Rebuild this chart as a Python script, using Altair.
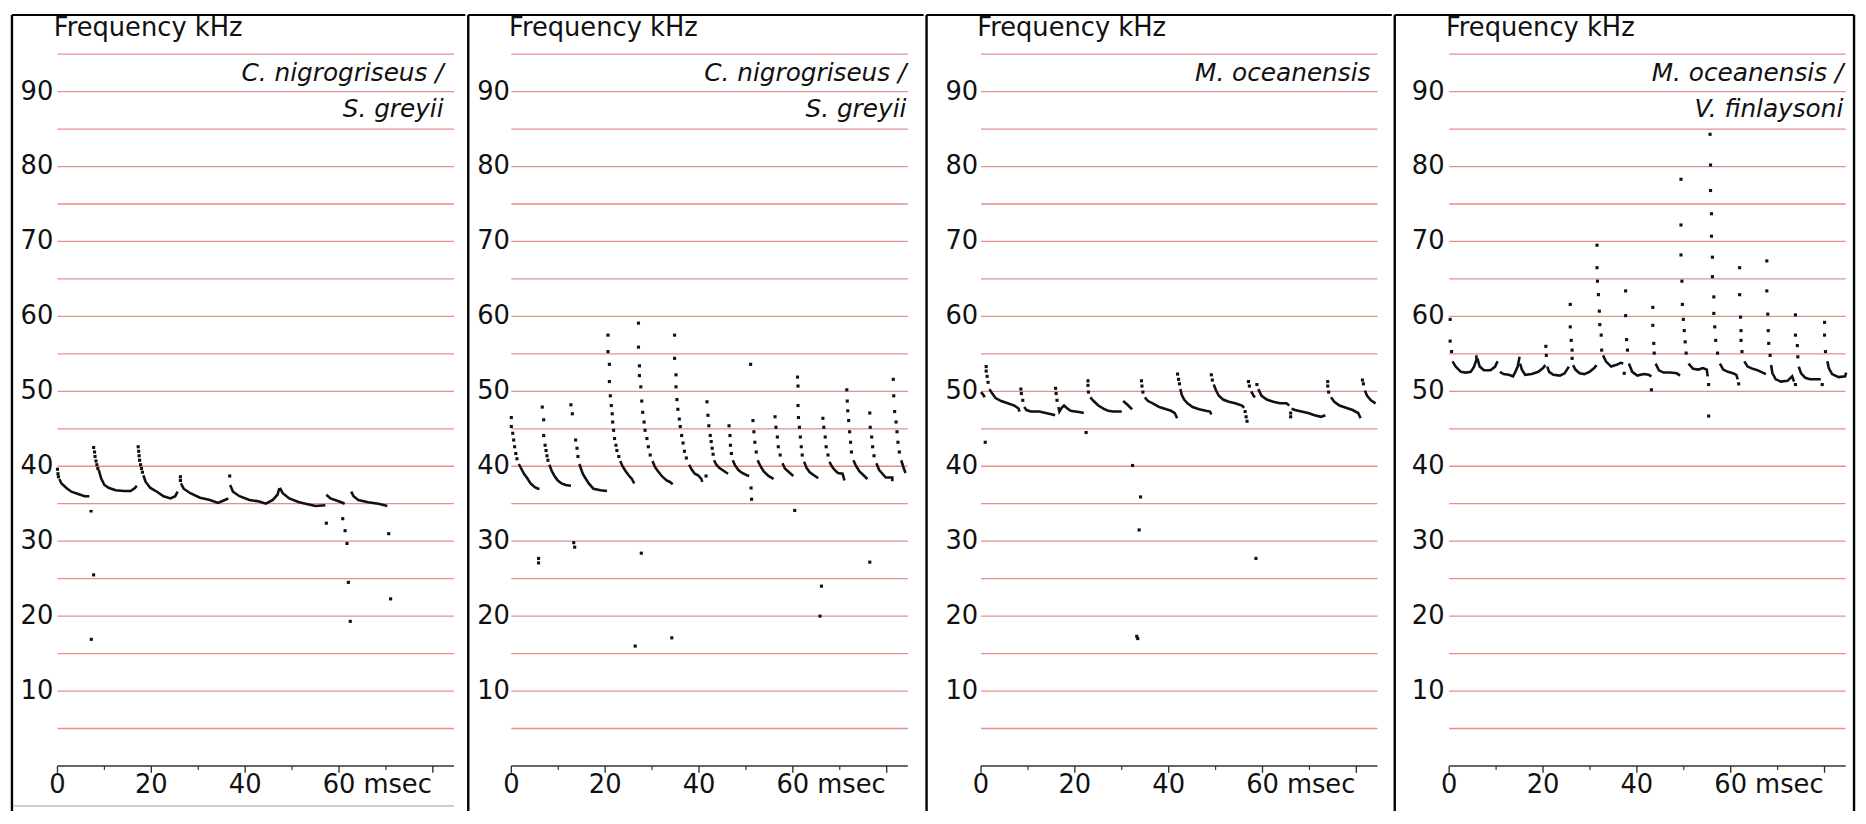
import altair as alt
import pandas as pd

# ---------------- shared axis content ----------------
GRID_KHZ = [5, 10, 15, 20, 25, 30, 35, 40, 45, 50, 55, 60, 65, 70, 75, 80, 85, 90, 95]
Y_LABEL_KHZ = [10, 20, 30, 40, 50, 60, 70, 80, 90]
X_MAJOR_MS = [0, 20, 40, 60, 80]
X_MINOR_MS = [10, 30, 50, 70]
X_LABEL_MS = [0, 20, 40, 60]
X_LABEL_TEXT = ["0", "20", "40", "60"]
X_UNIT = "msec"
Y_TITLE = "Frequency kHz"
SPECIES = [
    ["C. nigrogriseus /", "S. greyii"],
    ["C. nigrogriseus /", "S. greyii"],
    ["M. oceanensis"],
    ["M. oceanensis /", "V. finlaysoni"],
]

# ---------------- panel 1 ----------------
P1_TRACE_T = [
    [0.4, 0.85, 1.9, 2.95, 4.4, 5.8, 6.8],
    [6.8, 7.5],
    [8.8, 9.3, 10.0, 11.0, 12.4, 14.2, 15.6, 16.5, 16.9],
    [18.3, 18.8, 19.8, 21.2, 22.6, 24.1, 25.1, 25.6],
    [26.3, 26.9, 28.3, 30.4, 32.5, 34.2, 35.3, 36.4],
    [36.8, 37.4, 38.8, 40.9, 43.0, 44.4, 45.9, 46.9, 47.3],
    [47.4, 48.0, 49.4, 51.5, 53.6, 55.0, 57.1],
    [57.3, 58.2, 59.6, 60.5, 61.2],
    [62.6, 63.1, 64.1, 66.2, 68.4, 70.3],
]
P1_TRACE_F = [
    [38.3, 37.7, 37.1, 36.6, 36.3, 36.0, 36.0],
    [34.0, 34.0],
    [39.5, 38.4, 37.5, 37.1, 36.8, 36.7, 36.7, 37.1, 37.4],
    [38.8, 37.9, 37.1, 36.6, 36.0, 35.7, 36.0, 36.6],
    [37.7, 37.0, 36.4, 35.8, 35.5, 35.1, 35.4, 35.7],
    [37.5, 36.6, 36.0, 35.5, 35.3, 35.0, 35.5, 36.2, 37.1],
    [37.1, 36.4, 35.7, 35.2, 34.9, 34.7, 34.8],
    [36.2, 35.7, 35.4, 35.2, 35.0],
    [36.6, 36.0, 35.5, 35.2, 35.0, 34.7],
]
P1_DOT_T = [0.0, 0.1, 0.2, 7.7, 7.9, 8.0, 8.2, 8.4, 8.6, 17.2, 17.3, 17.4, 17.5, 17.7,
            17.9, 18.1, 26.2, 26.2, 36.7, 7.7, 7.2, 57.3, 60.8, 61.3, 61.7, 62.0, 62.4,
            70.6, 71.0]
P1_DOT_F = [39.6, 39.0, 38.6, 42.5, 41.9, 41.3, 40.7, 40.2, 39.7, 42.6, 42.0, 41.4, 40.8, 40.2,
            39.7, 39.2, 38.6, 38.1, 38.7, 25.5, 16.9, 32.4, 33.0, 31.4, 29.7, 24.5, 19.3,
            31.0, 22.3]

# ---------------- panel 2 ----------------
P2_TRACE_T = [
    [1.6, 2.1, 2.7, 3.4, 4.1, 5.0, 5.7, 6.0],
    [8.1, 8.6, 9.2, 9.9, 10.7, 11.6, 12.7],
    [14.5, 15.0, 15.3, 15.8, 16.5, 17.5, 19.0, 20.4],
    [23.2, 23.7, 24.3, 25.0, 25.7, 26.2],
    [30.1, 30.6, 31.3, 32.2, 33.1, 33.8, 34.4],
    [37.9, 38.4, 39.1, 39.8, 40.5, 40.7],
    [43.2, 43.7, 44.3, 45.0, 45.7, 46.2],
    [47.2, 47.7, 48.4, 49.2, 50.2, 50.7],
    [52.5, 53.1, 53.8, 54.8, 55.9],
    [57.8, 58.3, 59.2, 60.1],
    [62.4, 62.9, 63.6, 64.5, 65.4],
    [67.8, 68.3, 68.9, 69.6, 70.6, 71.0],
    [72.9, 73.5, 74.2, 74.9, 75.9],
    [77.8, 78.4, 79.1, 79.8, 81.2, 81.2],
    [83.1, 83.5, 84.0],
]
P2_TRACE_F = [
    [40.3, 39.7, 39.0, 38.4, 37.7, 37.2, 37.0, 37.0],
    [40.2, 39.4, 38.7, 38.1, 37.7, 37.5, 37.4],
    [40.3, 39.4, 38.9, 38.4, 37.7, 37.0, 36.8, 36.7],
    [40.7, 40.0, 39.4, 38.8, 38.3, 37.7],
    [40.7, 39.9, 39.3, 38.6, 38.1, 37.9, 37.6],
    [40.2, 39.6, 39.0, 38.8, 38.3, 37.9],
    [40.8, 40.2, 39.8, 39.5, 39.2, 39.0],
    [40.8, 40.1, 39.5, 39.1, 38.8, 38.7],
    [40.8, 40.0, 39.3, 38.7, 38.3],
    [40.4, 39.7, 39.2, 38.7],
    [40.6, 39.8, 39.2, 38.8, 38.4],
    [40.6, 40.0, 39.5, 39.1, 39.0, 38.1],
    [40.8, 40.0, 39.3, 38.9, 38.3],
    [40.4, 39.5, 39.0, 38.5, 38.5, 38.0],
    [40.8, 40.0, 39.1],
]
P2_DOT_T = [0.0, 0.0, 0.3, 0.5, 0.7, 0.95, 1.2,
            6.6, 6.9, 6.9, 7.2, 7.4, 7.6, 7.8,
            12.7, 13.0, 13.7, 14.0, 14.2,
            20.6, 20.6, 20.9, 20.9, 21.1, 21.3, 21.5, 21.6, 21.8, 22.0, 22.3, 22.5, 22.9,
            27.1, 27.1, 27.3, 27.3, 27.6, 27.8, 28.0, 28.3, 28.5, 28.9, 29.2, 29.6,
            34.8, 34.8, 35.1, 35.1, 35.3, 35.5, 35.8, 36.0, 36.3, 36.6, 36.9, 37.3,
            41.7, 41.9, 42.1, 42.4, 42.6, 42.8, 43.0,
            46.4, 46.6, 46.7, 46.9,
            51.5, 51.7, 51.9, 52.2,
            56.2, 56.4, 56.7, 56.9, 57.3,
            61.0, 61.1, 61.1, 61.2, 61.4, 61.6, 61.8, 62.0,
            66.4, 66.6, 66.9, 67.1, 67.5,
            71.5, 71.6, 71.7, 71.9, 72.1, 72.3, 72.5,
            76.4, 76.5, 76.8, 77.0, 77.3,
            81.4, 81.5, 81.7, 82.0, 82.2, 82.4, 82.7,
            5.8, 5.8, 13.3, 13.5, 26.4, 27.7, 34.2, 41.5, 51.0, 51.1, 51.2, 60.4,
            65.8, 66.1, 76.4]
P2_DOT_F = [46.5, 45.3, 44.4, 43.5, 42.6, 41.7, 41.0,
            47.9, 46.2, 44.1, 42.8, 42.1, 41.4, 40.8,
            48.2, 47.0, 43.5, 42.4, 41.3,
            57.5, 55.3, 53.6, 51.3, 49.4, 48.1, 47.0, 45.9, 44.8, 43.7, 42.8, 42.1, 41.3,
            59.1, 55.9, 53.4, 52.1, 50.6, 48.7, 47.2, 45.9, 44.8, 43.7, 42.6, 41.5,
            57.5, 54.4, 52.2, 50.6, 48.9, 47.6, 46.3, 45.3, 44.1, 43.1, 42.0, 41.1,
            48.6, 46.8, 45.4, 44.1, 43.3, 42.4, 41.6,
            45.4, 44.1, 42.8, 41.7,
            46.1, 44.6, 43.2, 41.9,
            46.6, 45.2, 43.9, 42.6, 41.5,
            51.9, 50.7, 48.1, 46.5, 45.2, 43.9, 42.6, 41.5,
            46.4, 45.2, 43.9, 42.6, 41.5,
            50.2, 48.7, 47.4, 46.1, 44.6, 43.2, 41.9,
            47.1, 45.2, 43.9, 42.6, 41.4,
            51.6, 49.4, 47.3, 45.9, 44.6, 43.2, 41.9,
            27.1, 27.7, 29.8, 29.2, 16.0, 28.4, 17.1, 38.7, 53.6, 37.1, 35.6, 34.1,
            20.0, 24.0, 27.2]

# ---------------- panel 3 ----------------
P3_TRACE_T = [
    [0.0, 0.4, 0.8],
    [1.8, 2.4, 3.1, 4.3, 5.7, 7.1, 8.0, 8.2],
    [9.2, 9.7, 10.6, 12.4, 13.8, 15.2, 15.8],
    [16.5, 16.7, 17.2, 17.7, 18.4, 19.1, 20.1, 21.2, 21.9],
    [23.3, 24.0, 25.0, 26.1, 27.1, 28.2, 30.0],
    [30.3, 31.4, 32.2],
    [34.9, 35.6, 36.6, 38.0, 39.5, 40.5, 41.3, 41.8],
    [42.5, 42.8, 43.3, 44.0, 45.1, 46.5, 47.9, 48.8, 49.1],
    [49.6, 50.1, 50.7, 51.6, 52.8, 54.2, 55.6, 56.1],
    [57.6, 58.1, 58.4],
    [59.1, 59.8, 60.9, 62.3, 63.7, 65.1, 65.7],
    [66.2, 66.9, 68.3, 69.7, 71.1, 72.5, 73.4],
    [74.6, 75.3, 76.4, 77.8, 79.2, 80.4, 80.9],
    [81.8, 82.3, 83.1, 84.1],
]
P3_TRACE_F = [
    [49.9, 49.6, 49.2],
    [50.3, 49.7, 49.1, 48.7, 48.4, 48.1, 47.7, 47.3],
    [47.9, 47.5, 47.3, 47.3, 47.1, 46.9, 46.8],
    [47.9, 47.3, 47.8, 48.1, 47.7, 47.4, 47.3, 47.2, 47.1],
    [49.2, 48.7, 48.1, 47.7, 47.4, 47.3, 47.3],
    [48.7, 48.1, 47.6],
    [49.2, 48.7, 48.4, 47.9, 47.6, 47.4, 47.1, 46.4],
    [50.3, 49.5, 48.9, 48.4, 47.9, 47.6, 47.4, 47.3, 46.9],
    [50.9, 50.1, 49.4, 48.9, 48.6, 48.4, 48.1, 47.8],
    [50.0, 49.4, 49.2],
    [50.3, 49.4, 48.9, 48.6, 48.4, 48.4, 48.1],
    [47.7, 47.5, 47.3, 47.1, 46.8, 46.6, 46.8],
    [49.2, 48.6, 48.1, 47.8, 47.5, 47.1, 46.4],
    [50.1, 49.4, 48.8, 48.4],
]
P3_DOT_T = [1.1, 1.1, 1.3, 1.5, 8.5, 8.6, 8.9, 15.9, 16.0, 16.2, 22.8, 22.8, 22.9,
            34.2, 34.3, 34.5, 41.9, 42.1, 42.3, 49.1, 49.3, 56.3, 56.5, 56.7,
            57.0, 57.2, 58.8, 66.0, 66.0, 73.9, 73.9, 74.1, 81.3, 81.5,
            0.9, 22.4, 32.3, 34.0, 33.7, 33.2, 33.4, 58.6]
P3_DOT_F = [53.3, 52.7, 52.0, 51.2, 50.3, 49.7, 48.8, 50.4, 49.7, 48.8, 51.4, 50.8, 49.9,
            51.4, 50.7, 49.9, 52.3, 51.6, 51.0, 52.2, 51.5, 47.3, 46.6, 46.0,
            51.3, 50.7, 50.9, 47.1, 46.6, 51.3, 50.7, 49.9, 51.5, 51.0,
            43.2, 44.5, 40.1, 35.9, 31.5, 17.3, 17.0, 27.7]

# ---------------- panel 4 ----------------
P4_TRACE_T = [
    [0.7, 1.4, 2.5, 3.5, 4.6, 5.3, 5.8, 5.8],
    [6.0, 6.5, 7.4, 8.8, 9.8, 10.3],
    [10.8, 11.6, 12.7, 13.6, 14.1, 14.6, 15.0],
    [15.1, 15.5, 16.2, 17.6, 19.0, 20.0, 20.5],
    [20.9, 21.3, 22.2, 23.6, 24.6, 25.5],
    [26.4, 26.9, 27.8, 28.8, 29.9, 30.9, 31.4],
    [32.8, 33.4, 34.5, 35.5, 36.6, 37.1],
    [38.3, 39.0, 40.1, 41.5, 42.5, 43.1],
    [44.0, 44.7, 45.7, 47.1, 48.5, 49.2],
    [51.0, 52.0, 53.1, 54.1, 54.9, 55.1],
    [57.7, 58.4, 59.4, 60.5, 61.2, 61.5],
    [62.9, 63.6, 64.7, 65.8, 66.8, 67.5],
    [68.6, 68.9, 69.6, 70.7, 72.1, 73.1, 73.5],
    [74.5, 75.0, 75.9, 76.9, 78.0, 79.2],
    [80.6, 80.9, 81.6, 83.0, 84.4, 84.6],
]
P4_TRACE_F = [
    [54.0, 53.3, 52.6, 52.5, 52.6, 53.3, 54.2, 54.8],
    [54.4, 53.3, 52.8, 52.8, 53.3, 54.0],
    [52.6, 52.3, 52.2, 52.0, 52.6, 53.3, 54.6],
    [53.7, 52.9, 52.2, 52.3, 52.6, 53.1, 53.5],
    [53.3, 52.6, 52.2, 52.1, 52.4, 53.3],
    [53.5, 52.9, 52.4, 52.3, 52.6, 53.1, 53.5],
    [54.8, 54.0, 53.3, 53.5, 53.8, 53.7],
    [53.7, 52.6, 52.1, 52.3, 52.2, 52.0],
    [53.7, 52.8, 52.5, 52.5, 52.4, 52.1],
    [53.7, 53.0, 52.9, 53.1, 52.9, 52.0],
    [53.7, 52.9, 52.6, 52.4, 52.2, 51.6],
    [54.0, 53.3, 53.0, 52.8, 52.5, 52.3],
    [53.5, 52.4, 51.6, 51.3, 51.4, 52.0, 51.3],
    [53.3, 52.4, 51.8, 51.6, 51.6, 51.6],
    [54.0, 53.1, 52.3, 51.9, 52.0, 52.5],
]
P4_DOT_T = [0.2, 0.2, 0.5, 20.6, 20.7,
            25.8, 25.8, 26.0, 26.2, 26.2,
            31.5, 31.5, 31.6, 31.8, 32.0, 32.1, 32.4, 32.5, 37.3,
            37.6, 37.6, 37.8, 38.0, 43.1,
            43.4, 43.4, 43.6, 43.7,
            49.4, 49.4, 49.4, 49.6, 49.7, 49.9, 50.1, 50.3, 50.5, 55.3, 55.3,
            55.6, 55.7, 55.7, 55.9, 55.9, 56.1, 56.1, 56.4, 56.4, 56.6, 56.8, 57.2, 61.7,
            61.9, 61.9, 62.1, 62.2, 62.2, 62.4,
            67.7, 67.7, 67.9, 68.0, 68.1, 68.4, 73.8,
            73.8, 73.8, 74.2, 74.3, 79.5,
            80.0, 80.0, 80.2]
P4_DOT_F = [59.6, 56.7, 55.3, 56.0, 54.8,
            61.6, 58.6, 56.8, 55.5, 54.4,
            69.5, 66.5, 64.7, 62.9, 60.7, 58.9, 57.5, 55.5, 52.4,
            63.4, 60.1, 56.9, 55.5, 50.2,
            61.2, 58.8, 56.4, 55.1,
            78.3, 72.2, 68.2, 64.7, 61.6, 59.6, 58.1, 56.6, 55.1, 50.9, 46.7,
            84.3, 80.2, 76.8, 73.7, 70.7, 67.9, 65.3, 62.6, 60.4, 58.6, 56.8, 55.1, 51.0,
            66.5, 62.9, 59.9, 58.1, 56.8, 55.3,
            67.4, 63.4, 60.3, 58.1, 56.4, 54.8, 50.9,
            60.2, 57.5, 56.1, 54.6, 50.9,
            59.2, 57.5, 55.3]

PANELS = [
    (P1_DOT_T, P1_DOT_F, P1_TRACE_T, P1_TRACE_F),
    (P2_DOT_T, P2_DOT_F, P2_TRACE_T, P2_TRACE_F),
    (P3_DOT_T, P3_DOT_F, P3_TRACE_T, P3_TRACE_F),
    (P4_DOT_T, P4_DOT_F, P4_TRACE_T, P4_TRACE_F),
]

# ---------------- layout / style ----------------
PX_PER_MS = 4.74
PX_PER_KHZ = 7.57
PANEL_W = [458, 460, 470, 464]
ZERO_PX = [46, 43.5, 55, 55]
PANEL_H = 804
Y_TOP = 100.21
Y_BOT = Y_TOP - PANEL_H / PX_PER_KHZ
BASE_F = Y_TOP - 799 / PX_PER_KHZ
GRID_END_MS = 84.5
YLAB_T = [-0.9, -0.3, -0.6, -1.0]
TITLE_T = [-0.8, -0.5, -0.8, -0.7]
SPECIES_T = [82.3, 84.2, 83.0, 84.0]
SPECIES_F = [92.5, 87.6]
TITLE_F = 98.5
XLAB_F = -2.6
UNIT_T = 65.2
MAJOR_LEN = 0.92
MINOR_LEN = 0.53
FONT = "DejaVu Sans"
FS = 26
FS_SPECIES = 25
INK = "#111111"
GRID_COLOR = "#e58f8f"


def build_panel(k):
    dots_t, dots_f, tr_t, tr_f = PANELS[k]
    w = PANEL_W[k]
    z = ZERO_PX[k]
    x_min = -z / PX_PER_MS
    x_max = (w - z) / PX_PER_MS
    xs = alt.Scale(domain=[x_min, x_max], nice=False, zero=False)
    ys = alt.Scale(domain=[Y_BOT, Y_TOP], nice=False, zero=False)

    def X(f):
        return alt.X(f"{f}:Q", scale=xs, axis=None)

    def Y(f):
        return alt.Y(f"{f}:Q", scale=ys, axis=None)

    grid = pd.DataFrame({"f": GRID_KHZ, "t0": 0.0, "t1": GRID_END_MS})
    grid_l = alt.Chart(grid).mark_rule(color=GRID_COLOR, strokeWidth=1.3).encode(
        x=X("t0"), x2=alt.X2("t1"), y=Y("f"))

    axis = pd.DataFrame({"t0": [0.0], "t1": [GRID_END_MS], "f": [0.0]})
    axis_l = alt.Chart(axis).mark_rule(color="#333333", strokeWidth=1.4).encode(
        x=X("t0"), x2=alt.X2("t1"), y=Y("f"))

    major = pd.DataFrame({"t": X_MAJOR_MS, "f0": 0.0, "f1": -MAJOR_LEN})
    major_l = alt.Chart(major).mark_rule(color="#333333", strokeWidth=1.4).encode(
        x=X("t"), y=Y("f0"), y2=alt.Y2("f1"))
    minor = pd.DataFrame({"t": X_MINOR_MS, "f0": 0.0, "f1": -MINOR_LEN})
    minor_l = alt.Chart(minor).mark_rule(color="#333333", strokeWidth=1.2).encode(
        x=X("t"), y=Y("f0"), y2=alt.Y2("f1"))

    xl = pd.DataFrame({"t": X_LABEL_MS, "f": XLAB_F, "s": X_LABEL_TEXT})
    xl_l = alt.Chart(xl).mark_text(font=FONT, fontSize=FS, color=INK, align="center",
                                   baseline="middle").encode(x=X("t"), y=Y("f"), text="s:N")
    unit = pd.DataFrame({"t": [UNIT_T], "f": [XLAB_F], "s": [X_UNIT]})
    unit_l = alt.Chart(unit).mark_text(font=FONT, fontSize=FS, color=INK, align="left",
                                       baseline="middle").encode(x=X("t"), y=Y("f"), text="s:N")

    yl = pd.DataFrame({"t": YLAB_T[k], "f": Y_LABEL_KHZ, "s": [str(v) for v in Y_LABEL_KHZ]})
    yl_l = alt.Chart(yl).mark_text(font=FONT, fontSize=FS, color=INK, align="right",
                                   baseline="middle").encode(x=X("t"), y=Y("f"), text="s:N")

    ti = pd.DataFrame({"t": [TITLE_T[k]], "f": [TITLE_F], "s": [Y_TITLE]})
    ti_l = alt.Chart(ti).mark_text(font=FONT, fontSize=FS, color=INK, align="left",
                                   baseline="middle").encode(x=X("t"), y=Y("f"), text="s:N")

    lines = SPECIES[k]
    sp = pd.DataFrame({"t": SPECIES_T[k], "f": SPECIES_F[:len(lines)], "s": lines})
    sp_l = alt.Chart(sp).mark_text(font=FONT, fontSize=FS_SPECIES, fontStyle="italic",
                                   color=INK, align="right", baseline="middle").encode(
        x=X("t"), y=Y("f"), text="s:N")

    rows = []
    for ci, (ts, fs) in enumerate(zip(tr_t, tr_f)):
        for j, (t, f) in enumerate(zip(ts, fs)):
            rows.append({"call": ci, "idx": j, "t": t, "f": f})
    tr = pd.DataFrame(rows)
    tr_l = alt.Chart(tr).mark_line(color=INK, strokeWidth=2.6).encode(
        x=X("t"), y=Y("f"), detail="call:N", order="idx:Q")

    dots = pd.DataFrame({"t": dots_t, "f": dots_f})
    dots_l = alt.Chart(dots).mark_square(size=10, color=INK, opacity=1).encode(
        x=X("t"), y=Y("f"))

    # panel frame: left side, top side (and right side for the last panel)
    vx = [x_min] + ([x_max] if k == 3 else [])
    vframe = pd.DataFrame({"t": vx, "f0": Y_BOT, "f1": Y_TOP})
    vframe_l = alt.Chart(vframe).mark_rule(color="black", strokeWidth=2.4).encode(
        x=X("t"), y=Y("f0"), y2=alt.Y2("f1"))
    hframe = pd.DataFrame({"t0": [x_min], "t1": [x_max], "f": [Y_TOP]})
    hframe_l = alt.Chart(hframe).mark_rule(color="black", strokeWidth=2).encode(
        x=X("t0"), x2=alt.X2("t1"), y=Y("f"))

    layers = [grid_l, axis_l, major_l, minor_l, xl_l, unit_l, yl_l, ti_l, sp_l,
              tr_l, dots_l, vframe_l, hframe_l]
    if k == 0:
        base = pd.DataFrame({"t0": [x_min + 0.4], "t1": [GRID_END_MS], "f": [BASE_F]})
        layers.append(alt.Chart(base).mark_rule(color="#9a9a9a", strokeWidth=1).encode(
            x=X("t0"), x2=alt.X2("t1"), y=Y("f")))

    return alt.layer(*layers).properties(width=w, height=PANEL_H)


chart = alt.hconcat(*[build_panel(k) for k in range(4)], spacing=0).properties(
    padding={"left": 2, "top": 1, "right": 2, "bottom": 1},
    background="white",
).configure_view(stroke=None)

chart.save("out.html", embed_options={"renderer": "svg", "actions": False})
